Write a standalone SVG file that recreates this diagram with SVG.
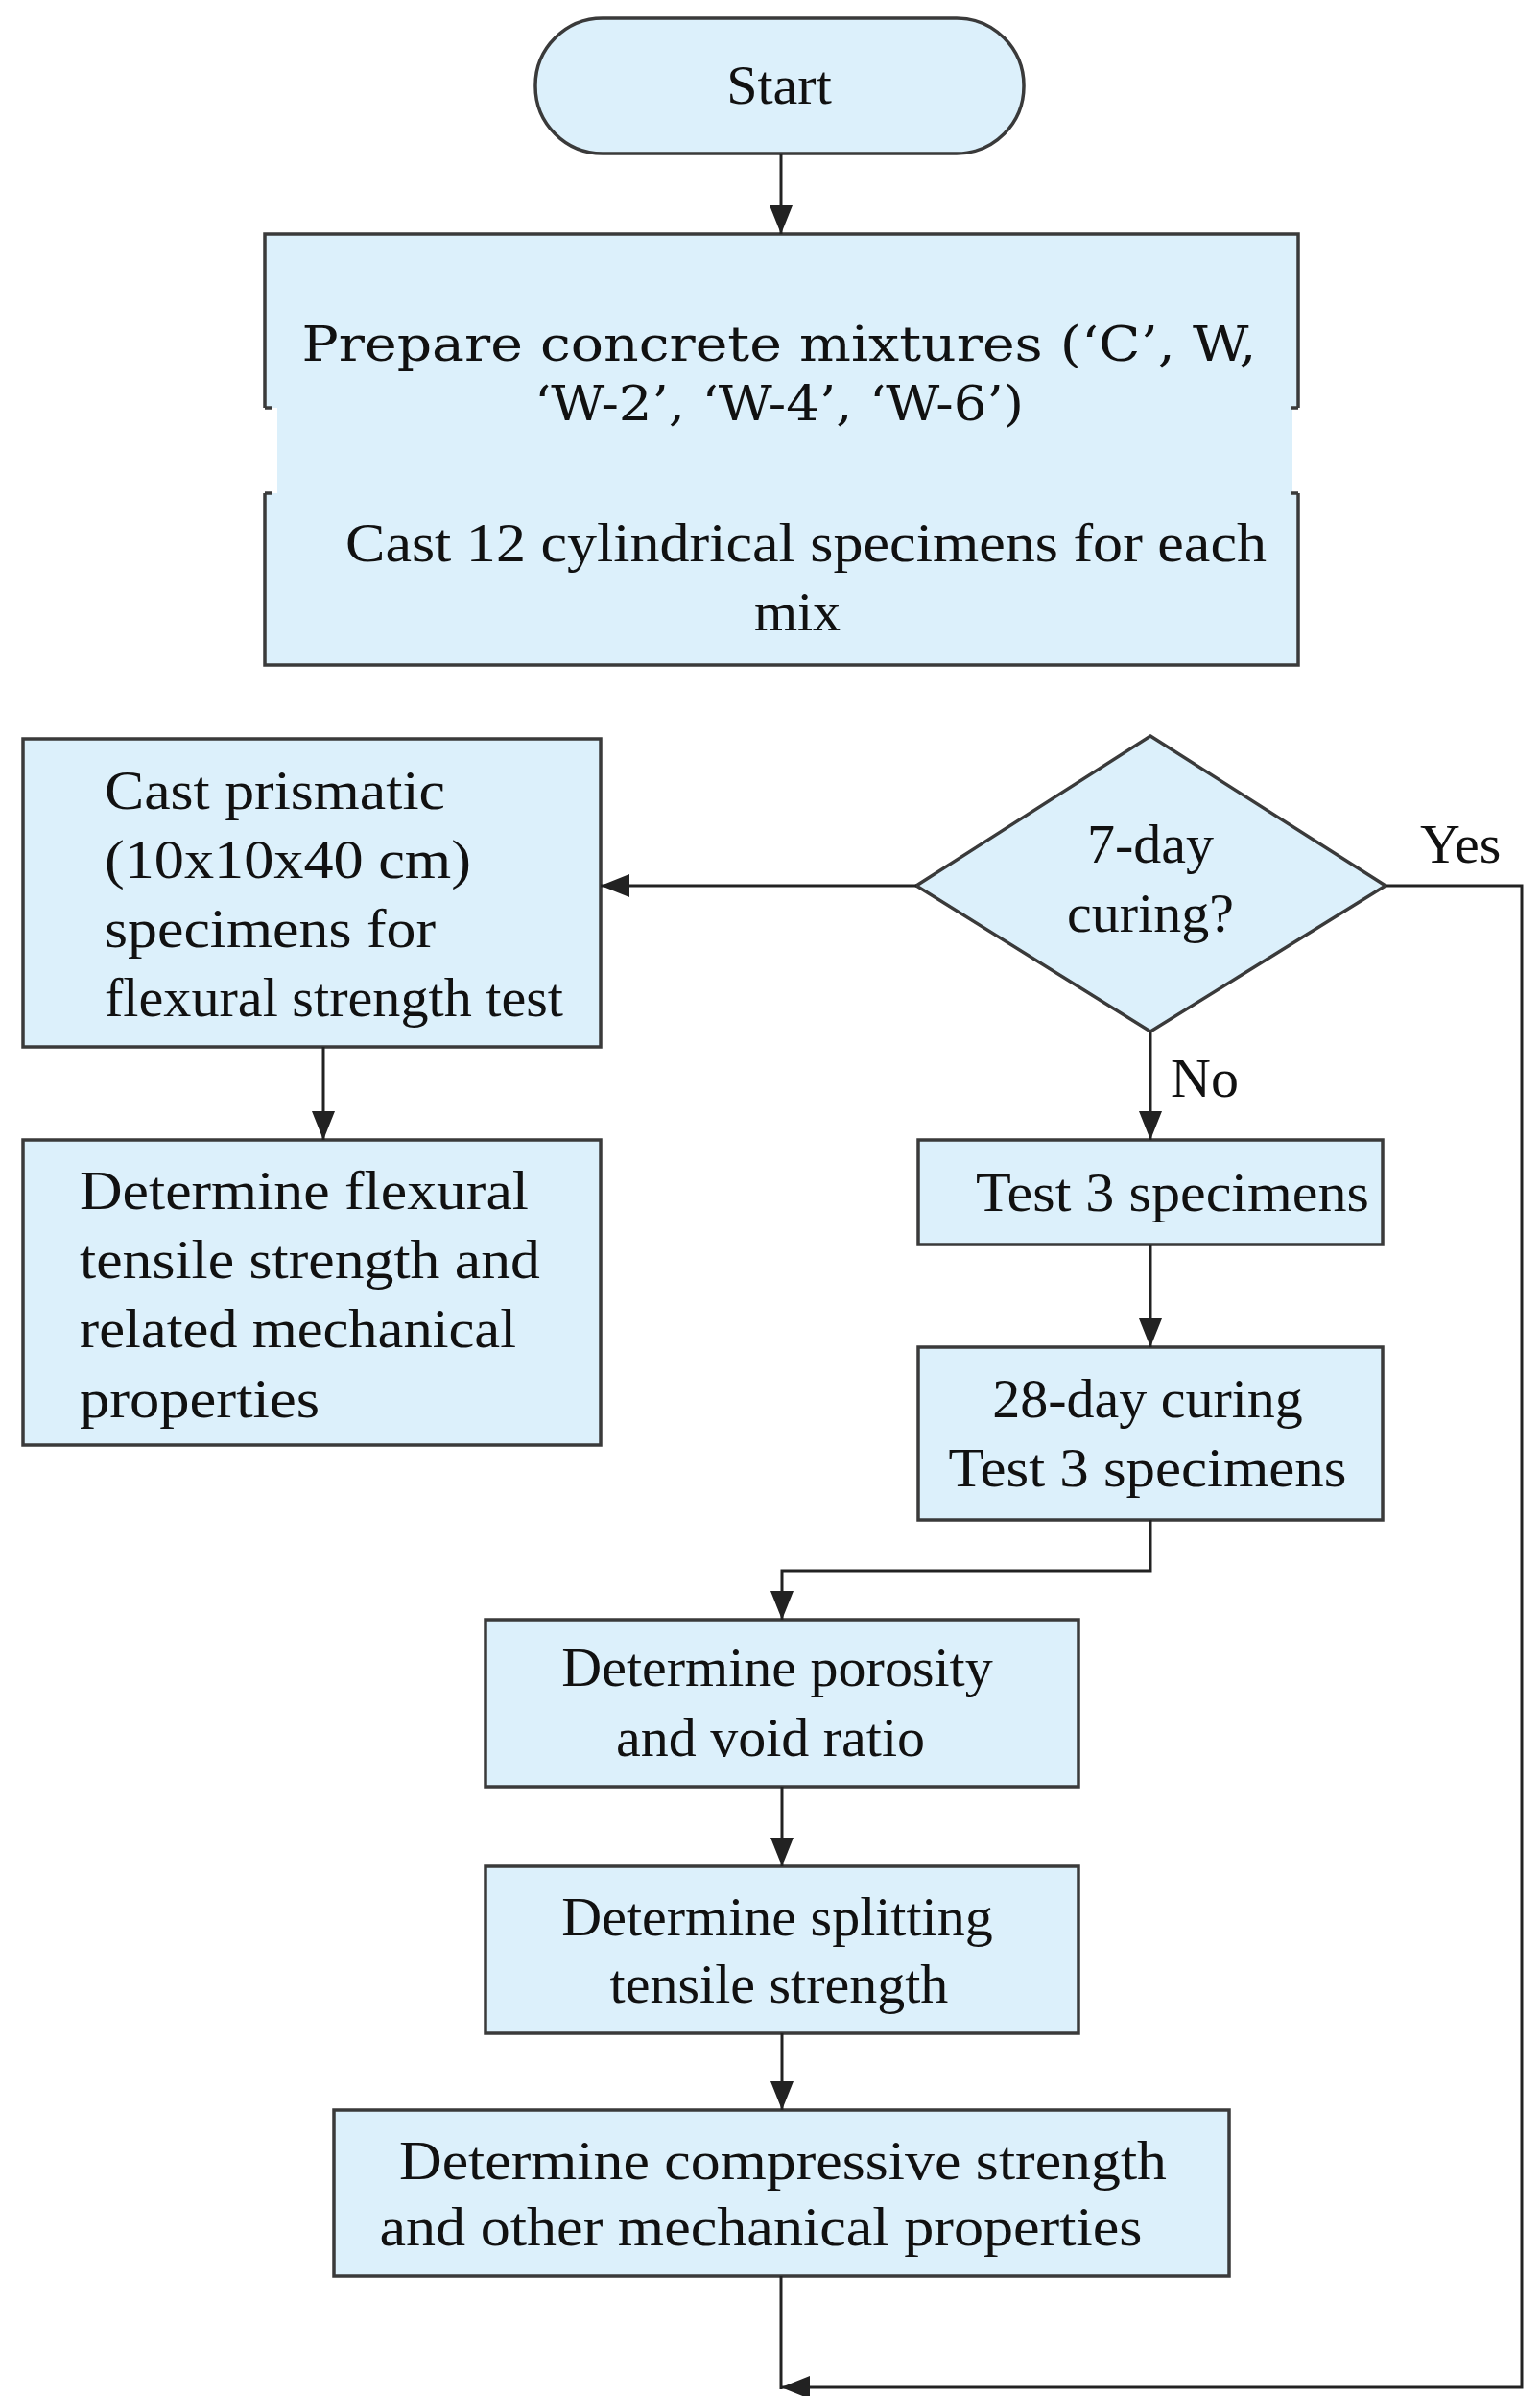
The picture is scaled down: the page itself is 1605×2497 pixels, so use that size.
<svg xmlns="http://www.w3.org/2000/svg" width="1605" height="2497" viewBox="0 0 1605 2497">
<style>
.n{fill:#dcf0fb;stroke:#3a3a3a;stroke-width:3.5}
.t{font-family:"Liberation Serif",serif;font-size:58px;fill:#111}
.c{text-anchor:middle}
.e{fill:none;stroke:#222;stroke-width:3}
</style>
<defs><marker id="a" viewBox="0 0 10 10" refX="10" refY="5" markerWidth="9" markerHeight="9" markerUnits="userSpaceOnUse" orient="auto"><path d="M0,0L10,5L0,10z" fill="#222"/></marker>
<marker id="b" viewBox="0 0 10 10" refX="10" refY="5" markerWidth="30" markerHeight="30" markerUnits="userSpaceOnUse" orient="auto"><path d="M0,1L10,5L0,9z" fill="#222"/></marker></defs>
<rect width="1605" height="2497" fill="#fff"/>
<g id="start"><rect class="n" x="558" y="19" width="509" height="141" rx="70"/><text class="t c" x="812" y="108">Start</text></g>
<g id="prepare"><rect x="289" y="250" width="1058" height="265" fill="#dcf0fb"/><path d="M276,425V244H1353V425" fill="#dcf0fb" stroke="#3a3a3a" stroke-width="3.5"/><path d="M276,425h8M1353,425h-8" stroke="#3a3a3a" stroke-width="3.5"/>
<text class="t c" x="812" y="376" font-family="DejaVu Serif,serif" style="font-family:'DejaVu Serif',serif;font-size:50px" textLength="995" lengthAdjust="spacingAndGlyphs">Prepare concrete mixtures (‘C’, W,</text>
<text class="t c" x="812" y="438" style="font-family:'DejaVu Serif',serif;font-size:50px" textLength="510" lengthAdjust="spacingAndGlyphs">‘W-2’, ‘W-4’, ‘W-6’)</text></g>
<g id="cast"><path d="M276,514V693H1353V514" fill="#dcf0fb" stroke="#3a3a3a" stroke-width="3.5"/><path d="M276,514h8M1353,514h-8" stroke="#3a3a3a" stroke-width="3.5"/>
<text class="t c" x="840" y="585" textLength="960" lengthAdjust="spacingAndGlyphs">Cast 12 cylindrical specimens for each</text><text class="t c" x="831" y="657">mix</text></g>
<g id="prismatic"><rect class="n" x="24" y="770" width="602" height="321"/>
<text class="t" x="109" y="843" textLength="355" lengthAdjust="spacingAndGlyphs">Cast prismatic</text>
<text class="t" x="109" y="915" textLength="382" lengthAdjust="spacingAndGlyphs">(10x10x40 cm)</text>
<text class="t" x="109" y="987" textLength="345" lengthAdjust="spacingAndGlyphs">specimens for</text>
<text class="t" x="109" y="1059" textLength="478" lengthAdjust="spacingAndGlyphs">flexural strength test</text></g>
<g id="flexural"><rect class="n" x="24" y="1188" width="602" height="318"/>
<text class="t" x="83" y="1260" textLength="468" lengthAdjust="spacingAndGlyphs">Determine flexural</text>
<text class="t" x="83" y="1332" textLength="480" lengthAdjust="spacingAndGlyphs">tensile strength and</text>
<text class="t" x="83" y="1404" textLength="455" lengthAdjust="spacingAndGlyphs">related mechanical</text>
<text class="t" x="83" y="1477" textLength="250" lengthAdjust="spacingAndGlyphs">properties</text></g>
<g id="decision"><path class="n" d="M1199,767L1444,923L1199,1075L955,923Z"/><text class="t c" x="1199" y="899">7-day</text><text class="t c" x="1199" y="971">curing?</text></g>
<g id="test3"><rect class="n" x="957" y="1188" width="484" height="109"/><text class="t c" x="1222" y="1262" textLength="410" lengthAdjust="spacingAndGlyphs">Test 3 specimens</text></g>
<g id="day28"><rect class="n" x="957" y="1404" width="484" height="180"/><text class="t c" x="1196" y="1477">28-day curing</text><text class="t c" x="1196" y="1549" textLength="415" lengthAdjust="spacingAndGlyphs">Test 3 specimens</text></g>
<g id="porosity"><rect class="n" x="506" y="1688" width="618" height="174"/><text class="t c" x="810" y="1757">Determine porosity</text><text class="t c" x="803" y="1830">and void ratio</text></g>
<g id="splitting"><rect class="n" x="506" y="1945" width="618" height="174"/><text class="t c" x="810" y="2017">Determine splitting</text><text class="t c" x="812" y="2087">tensile strength</text></g>
<g id="compressive"><rect class="n" x="348" y="2199" width="933" height="173"/><text class="t c" x="816" y="2271" textLength="800" lengthAdjust="spacingAndGlyphs">Determine compressive strength</text><text class="t c" x="793" y="2340" textLength="795" lengthAdjust="spacingAndGlyphs">and other mechanical properties</text></g>
<g id="connectors">
<path class="e" d="M814,160V244" marker-end="url(#b)"/>
<path class="e" d="M955,923H626" marker-end="url(#b)"/>
<path class="e" d="M337,1091V1188" marker-end="url(#b)"/>
<path class="e" d="M1199,1075V1188" marker-end="url(#b)"/>
<path class="e" d="M1199,1297V1404" marker-end="url(#b)"/>
<path class="e" d="M1199,1584V1637H815V1688" marker-end="url(#b)"/>
<path class="e" d="M815,1862V1945" marker-end="url(#b)"/>
<path class="e" d="M815,2119V2199" marker-end="url(#b)"/>
<path class="e" d="M814,2372V2490"/>
<path class="e" d="M1444,923H1586V2488H814" marker-end="url(#b)"/>
<text class="t" x="1480" y="899">Yes</text>
<text class="t" x="1220" y="1143">No</text>
</g>
</svg>
